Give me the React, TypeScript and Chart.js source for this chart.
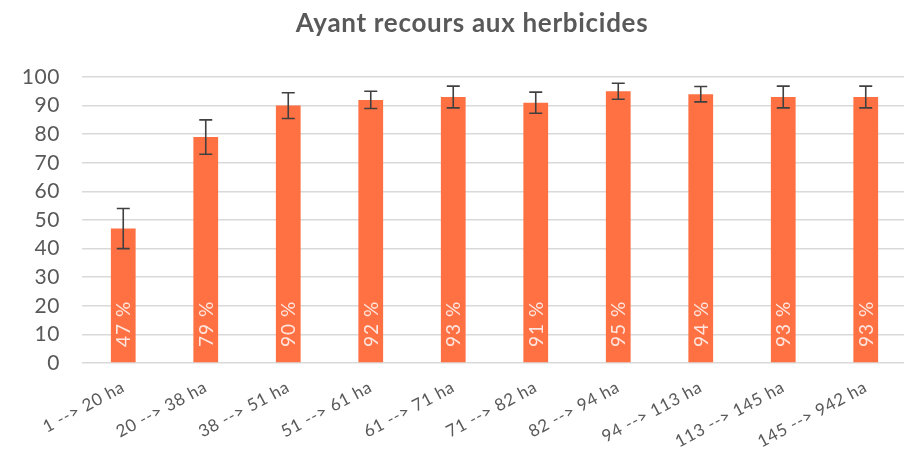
import React, { useEffect, useRef } from "react";
import { Chart, registerables } from "chart.js";

Chart.register(...registerables);

const chartTitle = "Ayant recours aux herbicides";
const categories = [
  "1 --> 20 ha",
  "20 --> 38 ha",
  "38 --> 51 ha",
  "51 --> 61 ha",
  "61 --> 71 ha",
  "71 --> 82 ha",
  "82 --> 94 ha",
  "94 --> 113 ha",
  "113 --> 145 ha",
  "145 --> 942 ha",
];
const values = [47, 79, 90, 92, 93, 91, 95, 94, 93, 93];
const errors = [7, 6, 4.5, 3, 3.8, 3.7, 2.8, 2.7, 3.8, 3.8];
const yTicks = [0, 10, 20, 30, 40, 50, 60, 70, 80, 90, 100];

const FONT = "Lato, 'Open Sans', sans-serif";
const TEXT = "#595959";

const spacingPlugin = {
  id: "spacing",
  beforeDraw(chart: any) {
    (chart.ctx as any).letterSpacing = "0.6px";
  },
};

const overlayPlugin = {
  id: "overlay",
  afterDatasetsDraw(chart: any) {
    const ctx = chart.ctx;
    const meta = chart.getDatasetMeta(0);
    const yScale = chart.scales.y;
    ctx.save();
    meta.data.forEach((bar: any, i: number) => {
      const v = values[i];
      const e = errors[i];
      const x = bar.x;
      const yTop = yScale.getPixelForValue(v + e);
      const yBot = yScale.getPixelForValue(v - e);
      ctx.strokeStyle = "#404040";
      ctx.lineWidth = 1.6;
      ctx.beginPath();
      ctx.moveTo(x, yTop);
      ctx.lineTo(x, yBot);
      ctx.moveTo(x - 6.5, yTop);
      ctx.lineTo(x + 6.5, yTop);
      ctx.moveTo(x - 6.5, yBot);
      ctx.lineTo(x + 6.5, yBot);
      ctx.stroke();

      // value label inside bar, rotated
      const base = yScale.getPixelForValue(0);
      ctx.save();
      ctx.translate(x, base - 16);
      ctx.rotate(-Math.PI / 2);
      ctx.fillStyle = "rgba(255,255,255,0.82)";
      ctx.font = `19px ${FONT}`;
      ctx.textAlign = "left";
      ctx.textBaseline = "middle";
      (ctx as any).letterSpacing = "1px";
      ctx.fillText(`${v} %`, 0, 1);
      ctx.restore();
    });
    // title
    ctx.fillStyle = TEXT;
    ctx.font = `bold 26px ${FONT}`;
    ctx.textAlign = "center";
    ctx.textBaseline = "middle";
    (ctx as any).letterSpacing = "0.7px";
    ctx.fillText(chartTitle, 472, 24);
    ctx.restore();
  },
};

export default function App() {
  const ref = useRef<HTMLCanvasElement>(null);
  useEffect(() => {
    document.body.style.overflow = "hidden";
    const chart = new Chart(ref.current!, {
      type: "bar",
      data: {
        labels: categories,
        datasets: [
          {
            data: values,
            backgroundColor: "#FF7043",
            borderWidth: 0,
            barPercentage: 0.3,
            categoryPercentage: 1,
          },
        ],
      },
      options: {
        animation: false,
        responsive: true,
        maintainAspectRatio: false,
        layout: { padding: { top: 77, right: 0, left: 0, bottom: 0 } },
        plugins: {
          legend: { display: false },
          title: { display: false },
          tooltip: { enabled: false },
        },
        scales: {
          x: {
            grid: { display: false },
            border: { display: false },
            ticks: {
              color: TEXT,
              font: { family: FONT, size: 17 },
              minRotation: 28,
              maxRotation: 28,
              padding: 6,
              autoSkip: false,
            },
            afterFit(scale: any) {
              scale.height = 94;
            },
          },
          y: {
            min: 0,
            max: 100,
            afterBuildTicks(scale: any) {
              scale.ticks = yTicks.map((v) => ({ value: v }));
            },
            grid: { color: "#D9D9D9", lineWidth: 1.5, drawTicks: false },
            border: { display: false },
            ticks: {
              color: TEXT,
              font: { family: FONT, size: 21 },
              padding: 22,
            },
            afterFit(scale: any) {
              scale.width = 82;
            },
          },
        },
      },
      plugins: [spacingPlugin, overlayPlugin],
    });
    return () => chart.destroy();
  }, []);
  return (
    <div style={{ position: "fixed", left: 0, top: 0, width: 907, height: 457, background: "#fff" }}>
      <canvas ref={ref} />
    </div>
  );
}
